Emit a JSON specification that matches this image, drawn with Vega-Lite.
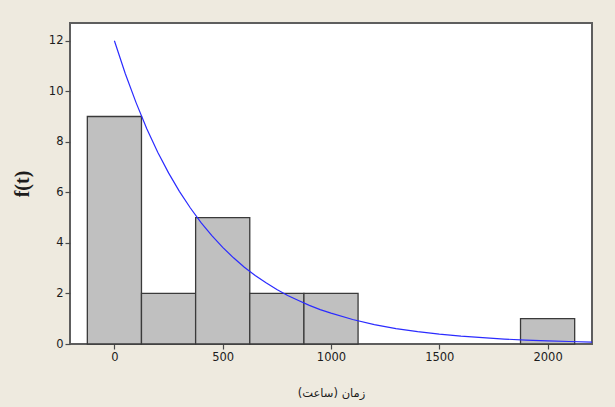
{
  "$schema": "https://vega.github.io/schema/vega-lite/v6.json",
  "autosize": {"type": "none"},
  "padding": {"left": 70, "top": 23, "right": 23, "bottom": 63},
  "width": 522,
  "height": 321,
  "background": "#EEEADF",
  "config": {
    "view": {"fill": "#ffffff", "stroke": "#5e5e5e", "strokeWidth": 2},
    "axis": {
      "grid": false,
      "domain": false,
      "tickColor": "#4a4a4a",
      "tickSize": 5,
      "tickWidth": 1.2,
      "labelFont": "DejaVu Sans",
      "labelFontSize": 11.5,
      "labelColor": "#1c1c1c",
      "labelPadding": 2
    }
  },
  "datasets": {
    "bins": [
      {"start": -125, "end": 125, "count": 9},
      {"start": 125, "end": 375, "count": 2},
      {"start": 375, "end": 625, "count": 5},
      {"start": 625, "end": 875, "count": 2},
      {"start": 875, "end": 1125, "count": 2},
      {"start": 1875, "end": 2125, "count": 1}
    ],
    "fit": [
      {"t": 0, "f": 12.0},
      {"t": 50, "f": 10.70},
      {"t": 100, "f": 9.55},
      {"t": 150, "f": 8.51},
      {"t": 200, "f": 7.59},
      {"t": 250, "f": 6.77},
      {"t": 300, "f": 6.04},
      {"t": 350, "f": 5.39},
      {"t": 400, "f": 4.80},
      {"t": 450, "f": 4.29},
      {"t": 500, "f": 3.82},
      {"t": 550, "f": 3.41},
      {"t": 600, "f": 3.04},
      {"t": 650, "f": 2.71},
      {"t": 700, "f": 2.42},
      {"t": 750, "f": 2.16},
      {"t": 800, "f": 1.92},
      {"t": 850, "f": 1.72},
      {"t": 900, "f": 1.53},
      {"t": 950, "f": 1.36},
      {"t": 1000, "f": 1.22},
      {"t": 1100, "f": 0.97},
      {"t": 1200, "f": 0.77},
      {"t": 1300, "f": 0.61},
      {"t": 1400, "f": 0.49},
      {"t": 1500, "f": 0.39},
      {"t": 1600, "f": 0.31},
      {"t": 1700, "f": 0.25},
      {"t": 1800, "f": 0.195},
      {"t": 1900, "f": 0.155},
      {"t": 2000, "f": 0.123},
      {"t": 2100, "f": 0.098},
      {"t": 2205, "f": 0.077}
    ]
  },
  "layer": [
    {
      "data": {"name": "bins"},
      "mark": {"type": "rect", "fill": "#C0C0C0", "stroke": "#3a3a3a", "strokeWidth": 1.3},
      "encoding": {
        "x": {
          "field": "start",
          "type": "quantitative",
          "scale": {"domain": [-205, 2205], "nice": false, "zero": false},
          "axis": {
            "values": [0, 500, 1000, 1500, 2000],
            "format": "d",
            "title": "زمان (ساعت)",
            "titleFont": "DejaVu Sans",
            "titleFontSize": 11.5,
            "titleFontWeight": "normal",
            "titleColor": "#1c1c1c",
            "titlePadding": 25
          }
        },
        "x2": {"field": "end"},
        "y": {
          "field": "count",
          "type": "quantitative",
          "scale": {"domain": [0, 12.7], "nice": false},
          "axis": {
            "values": [0, 2, 4, 6, 8, 10, 12],
            "title": "f(t)",
            "titleFont": "Liberation Serif",
            "titleFontSize": 20,
            "titleFontWeight": "bold",
            "titleColor": "#1c1c1c",
            "titlePadding": 16
          }
        },
        "y2": {"datum": 0}
      }
    },
    {
      "data": {"name": "fit"},
      "mark": {"type": "line", "color": "#2b2bff", "strokeWidth": 1.2, "clip": true},
      "encoding": {
        "x": {"field": "t", "type": "quantitative"},
        "y": {"field": "f", "type": "quantitative"}
      }
    }
  ]
}
